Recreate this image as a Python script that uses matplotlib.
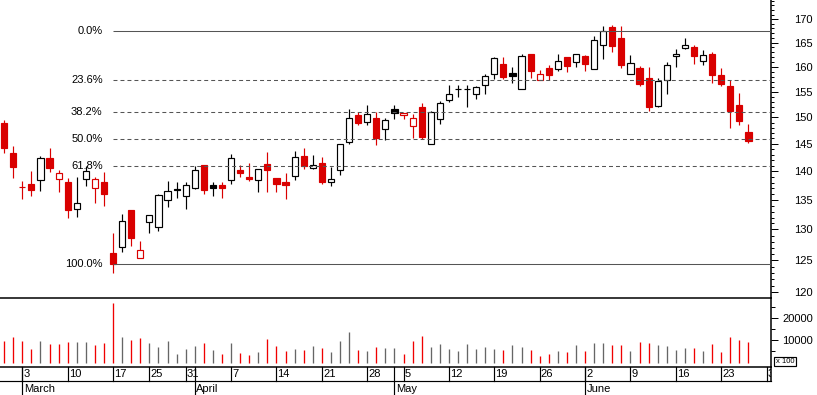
import matplotlib
matplotlib.use('Agg')
import matplotlib.pyplot as plt
import numpy as np
import pandas as pd
from matplotlib.ticker import FixedLocator, NullFormatter, FixedFormatter
from matplotlib.patches import Rectangle

plt.rcParams['font.family'] = ['Liberation Sans', 'DejaVu Sans']
plt.rcParams['font.size'] = 8

# ---------------- data ----------------
holidays = ['2008-03-21', '2008-03-24', '2008-05-01']
axis_start, axis_end = '2008-02-28', '2008-06-30'

opens = [149.0, 143.4, 137.25, 137.8, 138.45, 142.45, 138.6, 138.15, 133.4, 138.6,
         137.1, 138.15, 126.15, 127.2, 133.2, 125.35, 131.2, 130.35, 135.0, 136.85,
         135.75, 137.15, 141.15, 137.55, 137.6, 138.45, 140.25, 139.05, 138.45, 141.35,
         138.85, 138.15, 139.15, 142.8, 140.65, 141.55, 138.1, 140.2, 145.3, 150.45,
         149.1, 149.85, 147.75, 151.55, 150.4, 148.25, 152.0, 144.95, 149.65, 153.25,
         155.5, 155.55, 154.5, 156.25, 158.5, 160.6, 158.75, 155.45, 162.65, 157.3,
         159.75, 159.5, 162.0, 161.0, 162.25, 159.6, 164.45, 168.35, 166.0, 158.5,
         159.75, 157.75, 152.1, 157.3, 162.1, 163.95, 164.1, 161.25, 162.65, 158.35,
         156.2, 152.4, 147.25]
highs = [149.5, 144.6, 138.3, 140.05, 142.7, 144.25, 140.25, 138.85, 138.95, 141.05,
         139.05, 139.95, 129.5, 132.65, 133.25, 128.15, 132.4, 136.0, 138.3, 138.2,
         138.15, 141.0, 141.2, 138.15, 138.2, 143.15, 141.15, 141.5, 140.4, 143.5,
         138.9, 139.7, 143.7, 144.25, 143.0, 142.6, 140.8, 144.95, 151.55, 151.05,
         152.4, 151.05, 149.9, 152.4, 150.8, 150.65, 152.8, 151.3, 153.1, 156.35,
         156.35, 156.35, 156.05, 158.55, 161.9, 161.9, 160.0, 162.6, 162.65, 159.35,
         160.25, 162.65, 162.05, 162.6, 162.3, 166.4, 168.55, 168.75, 168.55, 162.45,
         160.15, 160.0, 157.75, 161.0, 163.7, 166.0, 164.5, 163.45, 163.05, 159.75,
         157.35, 154.75, 148.8]
lows = [143.3, 138.9, 135.1, 135.6, 136.6, 139.95, 136.3, 131.9, 132.05, 137.35,
        134.45, 134.0, 123.05, 126.4, 127.35, 125.3, 129.4, 129.8, 133.7, 135.3,
        133.4, 136.85, 136.1, 135.6, 135.4, 137.75, 139.05, 138.3, 136.45, 136.45,
        136.3, 135.2, 138.55, 140.45, 140.5, 137.85, 137.35, 139.4, 145.05, 148.6,
        148.45, 144.8, 145.8, 149.65, 149.65, 146.1, 145.85, 144.9, 148.7, 153.05,
        154.0, 152.05, 153.6, 154.6, 157.6, 157.55, 156.65, 155.45, 157.8, 157.3,
        157.35, 159.15, 159.0, 160.0, 159.2, 159.5, 161.65, 163.1, 159.8, 158.5,
        156.2, 151.25, 152.05, 154.6, 160.0, 163.75, 160.6, 160.25, 156.75, 156.15,
        148.05, 148.6, 145.15]
closes = [144.3, 140.85, 137.2, 136.75, 142.45, 140.65, 139.7, 133.2, 134.45, 140.0,
          138.6, 136.1, 124.4, 131.45, 128.65, 126.6, 132.35, 135.8, 136.55, 136.65,
          137.55, 140.25, 136.8, 137.15, 137.1, 142.4, 139.75, 138.65, 140.35, 140.25,
          137.85, 137.65, 142.65, 141.0, 141.15, 138.2, 138.65, 144.9, 149.85, 149.0,
          150.6, 146.15, 149.45, 150.8, 150.75, 149.8, 146.35, 151.0, 152.75, 154.5,
          155.55, 155.6, 155.85, 158.1, 161.75, 158.0, 158.05, 162.2, 159.2, 158.5,
          158.35, 161.15, 160.15, 162.55, 160.45, 165.5, 167.55, 164.35, 160.25, 160.7,
          156.6, 152.05, 157.15, 160.35, 162.6, 164.45, 162.1, 162.4, 158.35, 156.6,
          151.3, 149.3, 145.6]
volumes = [9900, 11700, 9900, 6300, 9900, 8550, 8550, 9450, 9450, 9450,
           8100, 9000, 27200, 11700, 10350, 11300, 9000, 7200, 9900, 4000,
           6300, 7650, 9000, 5800, 4000, 9000, 4450, 3550, 4900, 10800,
           7650, 5350, 6300, 5800, 7650, 6700, 4900, 9900, 14000, 5800,
           5350, 7200, 6700, 6450, 3850, 9900, 12200, 7200, 8400, 6300,
           5350, 8400, 6300, 7200, 6300, 5800, 7950, 7200, 5800, 3100,
           4000, 5350, 4900, 7950, 5350, 9000, 9000, 8100, 8100, 5350,
           9450, 9000, 8100, 7650, 5800, 6700, 6700, 5350, 8550, 4900,
           11700, 10350, 9450]
close_before_first = 146.0
fib_levels = [0.0, 0.236, 0.382, 0.5, 0.618, 1.0]
price_ticks = [120, 125, 130, 135, 140, 145, 150, 155, 160, 165, 170]
price_minor = list(range(119, 175))
volume_ticks = [10000, 20000]
volume_minor = [5000, 15000, 25000]
month_names = {3: 'March', 4: 'April', 5: 'May', 6: 'June'}

# ---------------- styles ----------------
RED = '#d90000'
VRED = '#f00000'
VGREY = '#666666'
FIBC = '#555555'
W, H = 817, 395
LW = 0.85


def rect(x0, y0, x1, y1):
    return [x0 / W, 1 - y1 / H, (x1 - x0) / W, (y1 - y0) / H]


days = pd.bdate_range(axis_start, axis_end)
days = days[~days.isin(pd.to_datetime(holidays))]
n = len(closes)
x = np.arange(n)
xlim = (-0.46, len(days) - 0.52)

fig = plt.figure(figsize=(W / 100, H / 100), dpi=100)
ax_v = fig.add_axes(rect(0, 298.3, 771, 367))
ax_d = fig.add_axes(rect(0, 367, 771, 395))
ax_p = fig.add_axes(rect(0, 0, 771, 298.3))
for a in (ax_p, ax_v, ax_d):
    a.patch.set_visible(False)

# ---------------- candles ----------------
prevs = [close_before_first] + closes[:-1]
line_cols, face_cols = [], []
for o, c, p in zip(opens, closes, prevs):
    lc = 'black' if c >= p else RED
    line_cols.append(lc)
    face_cols.append(lc if c < o else 'white')

ax_p.vlines(x, lows, highs, colors=line_cols, lw=LW, zorder=2)
bottoms = np.minimum(opens, closes)
heights = np.abs(np.array(closes) - np.array(opens))
ax_p.bar(x, heights, bottom=bottoms, width=0.68, color=face_cols,
         edgecolor=line_cols, linewidth=LW, zorder=3)

ax_p.set_yscale('log')
ax_p.set_ylim(119.08, 174.2)
ax_p.set_xlim(*xlim)

# ---------------- fibonacci ----------------
hi, lo = max(closes), min(closes)
start = int(np.argmin(closes))
for lvl in fib_levels:
    price = hi - lvl * (hi - lo)
    solid = lvl in (0.0, 1.0)
    ax_p.plot([start, xlim[1]], [price, price], color=FIBC, lw=0.75,
              linestyle='-' if solid else (0, (3.8, 2.9)), zorder=4,
              solid_capstyle='butt')
    ax_p.annotate(f'{lvl * 100:.1f}%', xy=(start, price), xytext=(-7.5, 0),
                  textcoords='offset points', ha='right', va='center',
                  fontsize=8, zorder=1)

# price axis
ax_p.yaxis.tick_right()
ax_p.yaxis.set_major_locator(FixedLocator(price_ticks))
ax_p.yaxis.set_major_formatter(FixedFormatter([str(t) for t in price_ticks]))
ax_p.yaxis.set_minor_locator(FixedLocator(price_minor))
ax_p.yaxis.set_minor_formatter(NullFormatter())
ax_p.tick_params(axis='y', which='major', length=5.0, width=0.72, pad=25.2,
                 direction='out', labelsize=8)
ax_p.tick_params(axis='y', which='minor', length=2.2, width=0.72, direction='out')
ax_p.set_xticks([])
for lab in ax_p.get_yticklabels():
    lab.set_horizontalalignment('right')
for s in ('left', 'top'):
    ax_p.spines[s].set_visible(False)
for s in ('right', 'bottom'):
    ax_p.spines[s].set_linewidth(1.1)
    ax_p.spines[s].set_color('black')

# ---------------- volume ----------------
vcols = [VGREY if c >= p else VRED for c, p in zip(closes, prevs)]
ax_v.vlines(x, 0, volumes, colors=vcols, lw=0.95)
ax_v.set_xlim(*xlim)
ax_v.set_ylim(-2045, 29180)
ax_v.yaxis.tick_right()
ax_v.yaxis.set_major_locator(FixedLocator(volume_ticks))
ax_v.yaxis.set_major_formatter(FixedFormatter([str(t) for t in volume_ticks]))
ax_v.yaxis.set_minor_locator(FixedLocator(volume_minor))
ax_v.yaxis.set_minor_formatter(NullFormatter())
ax_v.tick_params(axis='y', which='major', length=5.0, width=0.72, pad=25.2,
                 direction='out', labelsize=8)
ax_v.tick_params(axis='y', which='minor', length=2.8, width=0.72, direction='out')
ax_v.set_xticks([])
for lab in ax_v.get_yticklabels():
    lab.set_horizontalalignment('right')
for s in ('left', 'top'):
    ax_v.spines[s].set_visible(False)
for s in ('right', 'bottom'):
    ax_v.spines[s].set_linewidth(1.1)
    ax_v.spines[s].set_color('black')

# ---------------- date axis ----------------
ax_d.set_xlim(*xlim)
ax_d.set_ylim(0, 1)
ax_d.axis('off')
row = (395 - 380.7) / 28
ax_d.plot([xlim[0], xlim[1]], [row, row], color='black', lw=LW, clip_on=False)
ax_d.plot([xlim[1], xlim[1]], [row, 1], color='black', lw=1.1, clip_on=False)
for i in range(1, len(days)):
    d, pd_ = days[i], days[i - 1]
    new_week = d.isocalendar()[1] != pd_.isocalendar()[1]
    new_month = d.month != pd_.month
    if new_month:
        ax_d.plot([i, i], [0, 1], color='black', lw=LW, clip_on=False)
        ax_d.annotate(month_names.get(d.month, d.strftime('%B')), xy=(i, 0.214),
                      xytext=(1.1, 0), textcoords='offset points',
                      ha='left', va='center', fontsize=8)
    if new_week:
        ax_d.plot([i, i], [row, 1], color='black', lw=LW, clip_on=False)
        ax_d.text(i + 0.12, 0.75, str(d.day), ha='left', va='center',
                  fontsize=8, clip_on=True)

# "x 100" box
fig.add_artist(Rectangle((774 / W, 1 - 366 / H), 21.7 / W, 9.3 / H,
                         transform=fig.transFigure, fill=False,
                         edgecolor='black', lw=LW))
fig.text(784.8 / W, 1 - 361.4 / H, 'x 100', ha='center', va='center', fontsize=5.5)

fig.savefig('out.png', dpi=100)
